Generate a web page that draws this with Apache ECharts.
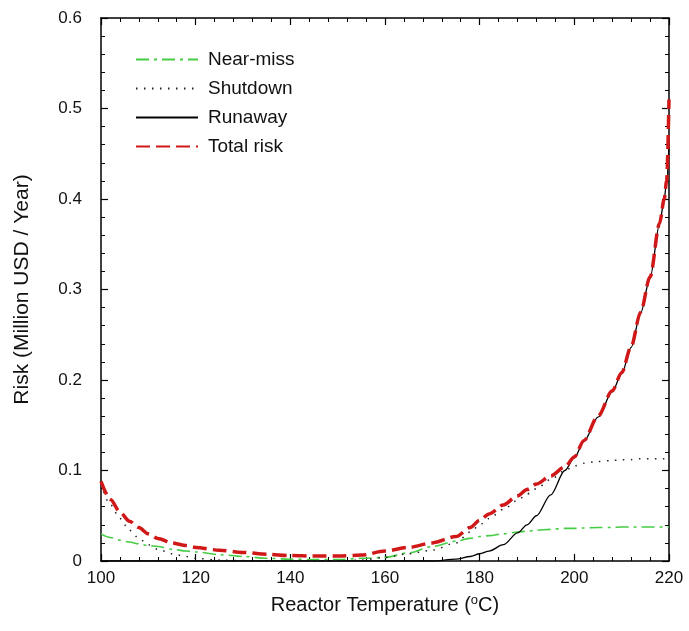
<!DOCTYPE html>
<html>
<head>
<meta charset="utf-8">
<script src="https://cdn.jsdelivr.net/npm/echarts@6/dist/echarts.min.js"></script>
<style>
  html, body { margin: 0; padding: 0; background: #fff; }
  #chart { width: 689px; height: 631px; }
</style>
</head>
<body>
<div id="chart"></div>
<script>
// Reactor temperature (°C) sample points
const temps = [100, 102, 104, 106, 108, 110, 112, 115, 118, 120, 125, 130, 135, 140, 145, 150, 155, 160, 165, 170,
  175, 178, 180, 182, 185, 188, 190, 192, 195, 198, 200, 202, 205, 208, 210, 212, 214, 216, 218, 219, 219.5, 220];

// Risk components, million USD per year
const nearMiss = [0.030, 0.026, 0.023, 0.021, 0.019, 0.017, 0.016, 0.013, 0.011, 0.010, 0.007, 0.005, 0.003, 0.002, 0.0015, 0.0015, 0.003, 0.004, 0.009, 0.016,
  0.022, 0.025, 0.027, 0.028, 0.030, 0.032, 0.033, 0.034, 0.035, 0.036, 0.036, 0.0365, 0.037, 0.037, 0.0375, 0.0375, 0.0375, 0.0375, 0.0375, 0.0375, 0.0375, 0.0375];
const shutdown = [0.085, 0.062, 0.047, 0.034, 0.025, 0.018, 0.013, 0.008, 0.005, 0.003, 0.001, 0.0005, 0, 0, 0, 0, 0.001, 0.004, 0.008, 0.012,
  0.020, 0.032, 0.040, 0.047, 0.057, 0.067, 0.074, 0.080, 0.090, 0.100, 0.105, 0.108, 0.110, 0.111, 0.112, 0.112, 0.113, 0.113, 0.113, 0.113, 0.113, 0.113];
const runaway = [0, 0, 0, 0, 0, 0, 0, 0, 0, 0, 0, 0, 0, 0, 0, 0, 0, 0, 0, 0,
  0.002, 0.005, 0.008, 0.011, 0.018, 0.031, 0.040, 0.050, 0.073, 0.100, 0.114, 0.132, 0.159, 0.187, 0.207, 0.236, 0.274, 0.313, 0.372, 0.400, 0.420, 0.460];
const totalRisk = [0.088, 0.068, 0.054, 0.044, 0.037, 0.030, 0.025, 0.020, 0.017, 0.015, 0.012, 0.0095, 0.0075, 0.006, 0.0055, 0.0055, 0.0065, 0.011, 0.015, 0.020,
  0.027, 0.037, 0.045, 0.052, 0.062, 0.072, 0.079, 0.085, 0.094, 0.104, 0.115, 0.133, 0.160, 0.188, 0.208, 0.237, 0.275, 0.314, 0.373, 0.400, 0.420, 0.510];

const seriesNames = ['Near-miss', 'Shutdown', 'Runaway', 'Total risk'];

const pairs = vals => temps.map((t, i) => [t, vals[i]]);

const font = 'Liberation Sans, Arial, sans-serif';
const ink = '#111';

const frameAxis = {
  type: 'value',
  axisLine: { show: true, onZero: false, lineStyle: { color: '#000', width: 1.5 } },
  axisTick: { show: true, inside: true, length: 7, lineStyle: { color: '#000', width: 1.2 } },
  minorTick: { show: true, splitNumber: 5, length: 4, lineStyle: { color: '#000', width: 1 } },
  splitLine: { show: false },
  minorSplitLine: { show: false }
};

const chart = echarts.init(document.getElementById('chart'), null, { renderer: 'canvas' });

chart.setOption({
  animation: false,
  backgroundColor: '#fff',
  grid: { left: 101, right: 20, top: 18, bottom: 70 },
  legend: {
    orient: 'vertical',
    left: 135,
    top: 50,
    padding: 0,
    itemWidth: 62,
    itemHeight: 14,
    itemGap: 10,
    data: seriesNames,
    itemStyle: { opacity: 0 },
    textStyle: { fontFamily: font, fontSize: 19, color: ink, padding: [0, 0, 0, 5] }
  },
  xAxis: [
    Object.assign({}, frameAxis, {
      min: 100, max: 220, interval: 20, position: 'bottom',
      axisLabel: { fontFamily: font, fontSize: 17, color: ink, margin: 9 },
      name: '{a|Reactor Temperature (}{sup|o}{a|C)}',
      nameLocation: 'middle',
      nameGap: 33,
      nameTextStyle: {
        rich: {
          a: { fontFamily: font, fontSize: 20, color: ink },
          sup: { fontFamily: font, fontSize: 13, color: ink, verticalAlign: 'bottom', padding: [0, 0, 9, 0] }
        }
      }
    }),
    Object.assign({}, frameAxis, {
      min: 100, max: 220, interval: 20, position: 'top',
      axisLabel: { show: false }
    })
  ],
  yAxis: [
    Object.assign({}, frameAxis, {
      min: 0, max: 0.6, interval: 0.1, position: 'left',
      axisLabel: { fontFamily: font, fontSize: 17, color: ink, margin: 19,
        formatter: v => (v === 0 ? '0' : v.toFixed(1)) },
      name: 'Risk (Million USD / Year)',
      nameLocation: 'middle',
      nameGap: 68,
      nameTextStyle: { fontFamily: font, fontSize: 21, color: ink }
    }),
    Object.assign({}, frameAxis, {
      min: 0, max: 0.6, interval: 0.1, position: 'right',
      axisLabel: { show: false }
    })
  ],
  series: [
    {
      name: 'Near-miss', type: 'line', data: pairs(nearMiss),
      symbol: 'none', smooth: 0.3, smoothMonotone: 'x',
      lineStyle: { color: '#44cc44', width: 1.6, type: [13, 5, 3, 5] },
      itemStyle: { color: '#44cc44' }
    },
    {
      name: 'Shutdown', type: 'line', data: pairs(shutdown),
      symbol: 'none', smooth: 0.3, smoothMonotone: 'x',
      lineStyle: { color: '#222', width: 1.5, type: [1.5, 6.5] },
      itemStyle: { color: '#222' }
    },
    {
      name: 'Runaway', type: 'line', data: pairs(runaway),
      symbol: 'none', smooth: 0.3, smoothMonotone: 'x',
      lineStyle: { color: '#000', width: 1.3, type: 'solid' },
      itemStyle: { color: '#000' }
    },
    {
      name: 'Total risk', type: 'line', data: pairs(totalRisk),
      symbol: 'none', smooth: 0.3, smoothMonotone: 'x',
      lineStyle: { color: '#d01818', width: 3.5, type: [14, 6] },
      itemStyle: { color: '#d01818' }
    }
  ]
});
</script>
</body>
</html>
